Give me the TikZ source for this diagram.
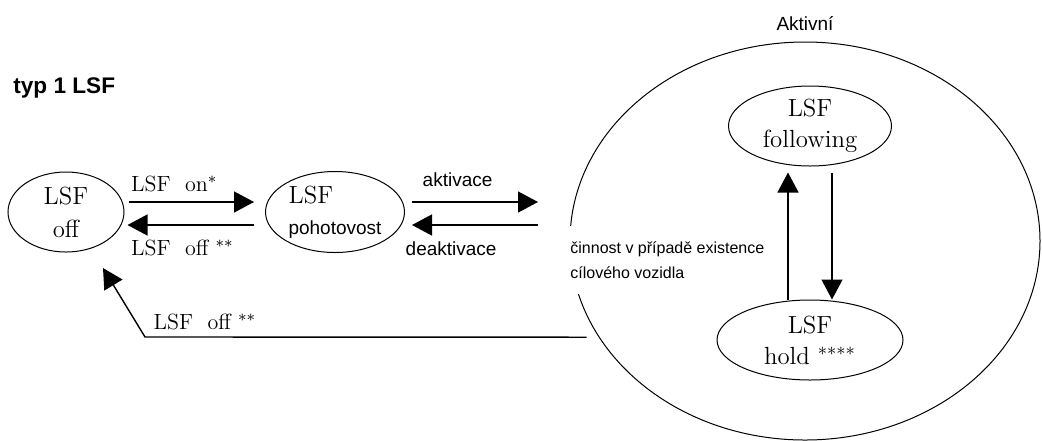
\documentclass[tikz,border=0pt]{standalone}
\usepackage{fontspec}
\setsansfont{Liberation Sans}
\usepackage{tikz}
\usetikzlibrary{shapes, arrows.meta, positioning, backgrounds}
\tikzstyle{state} = [ellipse, draw=black, line width=0.5pt, inner sep=0pt, align=center, font=\fontsize{12.4}{15.5}\selectfont]
\tikzstyle{arrow} = [-{Triangle[length=10pt, width=10.5pt]}, line width=0.7pt]
\tikzstyle{lbl} = [font=\fontsize{11}{13}\selectfont, inner sep=0pt]
\tikzstyle{sanslbl} = [font=\sffamily\fontsize{9.5}{12}\selectfont, inner sep=0pt]

\begin{document}
\begin{tikzpicture}[x=0.5pt, y=-0.5pt, background rectangle/.style={fill=white}, inner frame sep=0pt, show background rectangle]
    \useasboundingbox (0,0) rectangle (1042,440);

    \node (title) [anchor=west, inner sep=0pt, font=\sffamily\bfseries\fontsize{11.3}{13}\selectfont] at (13,88) {typ 1 LSF};

    \node (lsfoff) [state, minimum width=58pt, minimum height=40pt] at (66,212) {LSF\\[1pt]off};
    \node (standby) [state, right of=lsfoff, node distance=134.5pt, minimum width=69.5pt, minimum height=40.5pt] {LSF\hspace*{24pt}\\{\sffamily\fontsize{9.5}{11}\selectfont pohotovost}};

    \node (active) [ellipse, draw=black, line width=0.5pt, minimum width=235pt, minimum height=199pt] at (805,241) {};
    \node (activelbl) [sanslbl, above=5pt of active] {Aktivní};
    \node (follow) [state, minimum width=81.5pt, minimum height=40pt] at (810,126) {LSF\\following};
    \node (hold) [state, below of=follow, node distance=107pt, minimum width=93pt, minimum height=40pt] {LSF\\hold $^{****}$};
    \node (note) [anchor=west, align=left, fill=white, inner xsep=2pt, inner ysep=8pt, font=\sffamily\fontsize{8}{12.5}\selectfont] at (566,260) {činnost v případě existence\\cílového vozidla};

    \coordinate (actin) at (538,202);
    \coordinate (actout) at (538,225);
    \coordinate (bend) at (145,337);
    \coordinate (offtip) at (103,268);

    \draw [arrow] ([xshift=2pt, yshift=5pt]lsfoff.east) -- node[lbl, pos=0, anchor=base west, xshift=1pt, yshift=5.5pt] {LSF\ \ on$^{*}$} ([xshift=-5.5pt, yshift=5pt]standby.west);
    \draw [arrow] ([xshift=-5.5pt, yshift=-6.5pt]standby.west) -- node[lbl, pos=1, anchor=base west, xshift=1.5pt, yshift=-15pt] {LSF\ \ off $^{**}$} ([xshift=1.5pt, yshift=-6.5pt]lsfoff.east);
    \draw [arrow] ([xshift=3.5pt, yshift=5pt]standby.east) -- node[sanslbl, pos=0, anchor=base west, xshift=5pt, yshift=8pt] {aktivace} (actin);
    \draw [arrow] (actout) -- node[sanslbl, pos=1, anchor=base west, xshift=-3.5pt, yshift=-15pt] {deaktivace} ([xshift=3.5pt, yshift=-6.5pt]standby.east);

    \draw [arrow] ([xshift=-6pt]active.205) -- (bend) node[lbl, anchor=base west, xshift=4pt, yshift=4pt] {LSF\ \ off $^{**}$} -- (offtip);

    \draw [arrow] ([xshift=-11pt]hold.north) -- ([xshift=-11pt, yshift=-3pt]follow.south);
    \draw [arrow] ([xshift=11pt, yshift=-3pt]follow.south) -- ([xshift=11pt]hold.north);

\end{tikzpicture}
\end{document}
